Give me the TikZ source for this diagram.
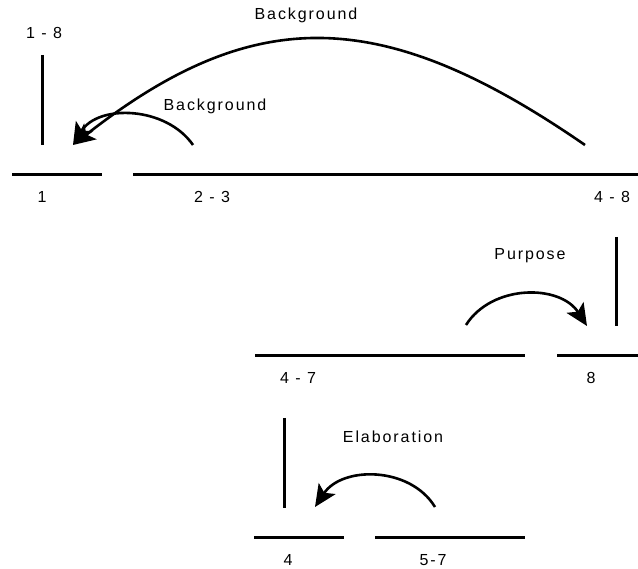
\documentclass[tikz,border=0pt]{standalone}
\usepackage{fontspec}
\setmainfont{Liberation Sans}[LetterSpace=12]
\usepackage{tikz}
\usetikzlibrary{arrows.meta}
\tikzset{
  seg/.style={line width=3pt,black},
  rel/.style={line width=2.6pt,-{Stealth[length=22pt,width=20pt,inset=5pt]}},
  lbl/.style={inner sep=0pt,font=\fontsize{16}{18}\selectfont}
}
\begin{document}
\begin{tikzpicture}[x=1pt,y=-1pt]
\useasboundingbox (0,0) rectangle (638,569);
% top level
\draw[seg] (42,55)--(42,145);
\node[lbl] (t18) at (44,33) {1 - 8};
\draw[seg] (12,175)--(102,175);
\draw[seg] (133,175)--(638,175);
\node[lbl] (t1) at (42,197) {1};
\node[lbl] (t23) at (212,197) {2 - 3};
\node[lbl] (t48) at (612,197) {4 - 8};
\coordinate (n1) at (73,145);
\coordinate (n23) at (193,145);
\coordinate (n48) at (585,145);
\draw[rel] (n23) .. controls (166,106) and (98,104) .. (n1);
\draw[rel] (n48) .. controls (381,4) and (253,4) .. (n1);
\node[lbl] (bg1) at (215,106) {Background};
\node[lbl] (bg2) at (306,15) {Background};
% 4 - 8
\draw[seg] (616,237)--(616,326);
\draw[seg] (255,356)--(525,356);
\draw[seg] (557,356)--(638,356);
\node[lbl] (t47) at (298,378) {4 - 7};
\node[lbl] (t8) at (591,378) {8};
\coordinate (n47) at (466,325);
\coordinate (n8) at (587,326);
\draw[rel] (n47) .. controls (492,284) and (560,284) .. (n8);
\node[lbl] (pur) at (530,256) {Purpose};
% 4 - 7
\draw[seg] (284,418)--(284,508);
\draw[seg] (254,538)--(344,538);
\draw[seg] (375,538)--(525,538);
\node[lbl] (t4) at (288,560) {4};
\node[lbl] (t57) at (433,560) {5-7};
\coordinate (n57) at (435,507);
\coordinate (n4) at (315,507);
\draw[rel] (n57) .. controls (410,466) and (342,466) .. (n4);
\node[lbl] (ela) at (393,437) {Elaboration};
\end{tikzpicture}
\end{document}
